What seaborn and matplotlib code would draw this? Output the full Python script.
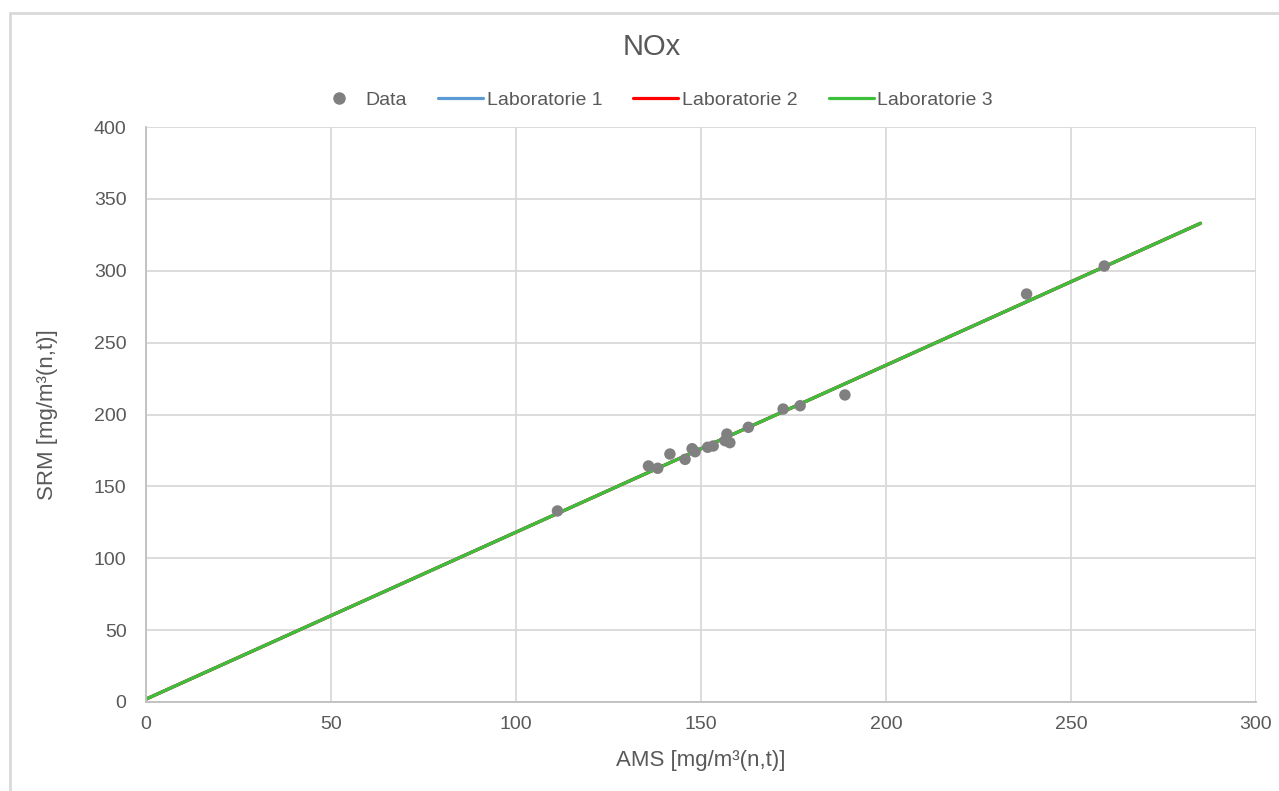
import numpy as np
import pandas as pd
import seaborn as sns
import matplotlib.pyplot as plt
from matplotlib.lines import Line2D

# NOx: AMS vs SRM with laboratory calibration lines

ams = [111.2, 135.8, 138.3, 141.6, 145.7, 147.6, 148.4, 151.8, 153.3, 156.5,
       157.0, 157.8, 162.8, 172.2, 176.8, 188.9, 238.0, 259.0]
srm = [132.9, 164.2, 162.6, 172.5, 168.8, 176.2, 174.1, 177.2, 178.1, 181.8,
       186.4, 180.4, 191.1, 203.8, 206.1, 213.6, 283.8, 303.3]

lab_x = [0, 285]
lab1_y = [2.0, 333.0]
lab2_y = [2.0, 333.0]
lab3_y = [2.0, 333.0]
lab_names = ["Laboratorie 1", "Laboratorie 2", "Laboratorie 3"]
lab_colors = ["#5b9bd5", "#ff0000", "#3cc03c"]

x_ticks = [0, 50, 100, 150, 200, 250, 300]
y_ticks = [0, 50, 100, 150, 200, 250, 300, 350, 400]

sns.set_style("white")
plt.rcParams["font.family"] = ["Liberation Sans", "DejaVu Sans"]
txt = "#595959"

fig = plt.figure(figsize=(12.79, 7.91), dpi=100)
ax = fig.add_axes([146 / 1279, 1 - 702 / 791, (1256 - 146) / 1279, (702 - 127) / 791])

df = pd.DataFrame({"AMS": ams, "SRM": srm})
for ys, name, col in zip([lab1_y, lab2_y, lab3_y], lab_names, lab_colors):
  sns.lineplot(x=lab_x, y=ys, color=col, lw=2.3, ax=ax, legend=False)
sns.scatterplot(data=df, x="AMS", y="SRM", color="#808080", s=68,
                edgecolor="none", ax=ax, zorder=5, legend=False)

ax.set_xlim(0, 300)
ax.set_ylim(0, 400)
ax.set_xticks(x_ticks)
ax.set_yticks(y_ticks)
ax.set_xticks(np.arange(0, 301, 10), minor=True)
ax.set_yticks(np.arange(0, 401, 10), minor=True)
ax.grid(True, which="major", color="#d9d9d9", lw=1.3)
ax.set_axisbelow(True)
for s in ["top", "right"]:
  ax.spines[s].set_visible(False)
for s in ["bottom", "left"]:
  ax.spines[s].set_color("#bfbfbf")
  ax.spines[s].set_linewidth(1.3)

ax.tick_params(axis="both", which="major", labelsize=14, colors="#bfbfbf",
               labelcolor=txt, length=12, width=1.3, direction="inout")
ax.tick_params(axis="both", which="minor", length=5, width=1.0, colors="#bfbfbf", direction="in")
ax.tick_params(axis="x", which="major", pad=4)
ax.tick_params(axis="y", which="major", pad=8)

ax.set_xlabel("AMS [mg/m³(n,t)]", fontsize=16, color=txt, labelpad=12)
ax.set_ylabel("SRM [mg/m³(n,t)]", fontsize=16, color=txt, labelpad=26)

fig.text(652 / 1279, 1 - 47 / 791, "NOx", fontsize=21, color=txt, ha="center", va="center")

handles = [Line2D([], [], marker="o", ls="none", color="#808080", markersize=8)]
handles += [Line2D([], [], color=c, lw=2.3) for c in lab_colors]
fig.legend(handles, ["Data"] + lab_names, loc="center", ncol=4,
           bbox_to_anchor=(655 / 1279, 1 - 100 / 791), frameon=False,
           fontsize=14, labelcolor=txt, handlelength=2.3, handletextpad=0.2,
           columnspacing=1.6)

# chart area border
fig.add_artist(Line2D([10 / 1279, 1.0], [1 - 13 / 791] * 2, color="#d9d9d9", lw=2,
                      transform=fig.transFigure))
fig.add_artist(Line2D([10 / 1279] * 2, [0, 1 - 13 / 791], color="#d9d9d9", lw=2,
                      transform=fig.transFigure))

plt.savefig("out.png", dpi=100)
